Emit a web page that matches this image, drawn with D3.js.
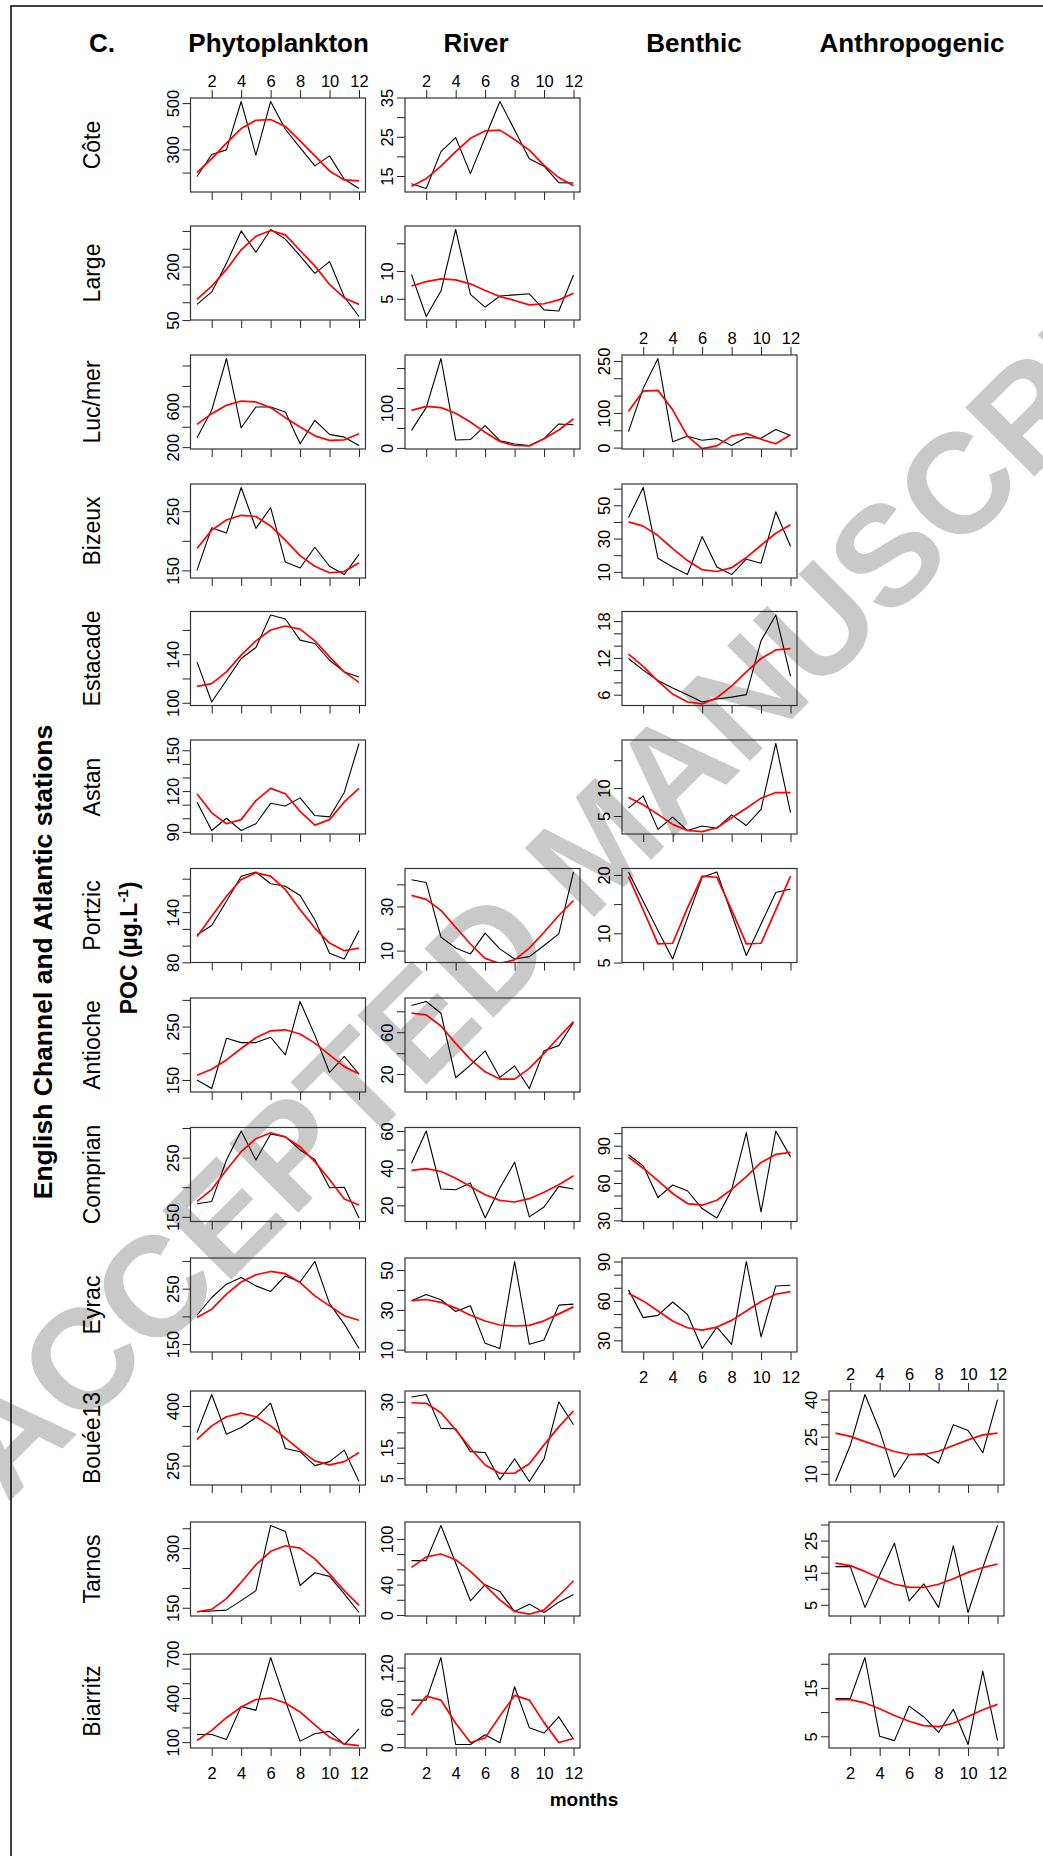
<!DOCTYPE html>
<html><head><meta charset="utf-8">
<script src="https://cdn.jsdelivr.net/npm/d3@7"></script>
<style>
body{margin:0;background:#fff}
svg{display:block}
text{font-family:"Liberation Sans",Arial,Helvetica,sans-serif}
</style>
</head><body>
<svg id="chart" width="1043" height="1856"></svg>
<script>
// ---------------- data ----------------
const months = [1,2,3,4,5,6,7,8,9,10,11,12];
const monthTicks = [2,4,6,8,10,12];
const stations = ["Côte","Large","Luc/mer","Bizeux","Estacade","Astan","Portzic","Antioche","Comprian","Eyrac","Bouée13","Tarnos","Biarritz"];
const sources = ["Phytoplankton","River","Benthic","Anthropogenic"];

const cote_phyto_obs = [183,278,298,507,275,507,387,308,229,272,171,131];
const cote_phyto_fit = [200,260,327,390,426,429,399,337,272,207,168,164];
const cote_phyto_ticks = [200,300,400,500], cote_phyto_labels = [300,500];
const cote_river_obs = [13.0,11.8,21.2,24.8,15.6,24.8,34.0,26.7,19.4,17.5,13.3,13.2];
const cote_river_fit = [12.4,14.3,17.5,21.2,24.6,26.5,26.7,24.3,21.6,17.7,14.6,12.5];
const cote_river_ticks = [15,20,25,30,35], cote_river_labels = [15,25,35];

const large_phyto_obs = [94,129,209,300,240,304,277,230,181,214,115,60];
const large_phyto_fit = [108,145,192,247,285,301,289,245,202,150,112,94];
const large_phyto_ticks = [50,100,150,200,250,300], large_phyto_labels = [50,200];
const large_river_obs = [9.4,1.8,6.4,17.5,5.8,3.5,5.5,5.7,5.9,3.0,2.8,9.3];
const large_river_fit = [7.3,8.1,8.6,8.4,7.7,6.5,5.4,4.7,3.9,4.1,4.8,6.0];
const large_river_ticks = [5,10,15], large_river_labels = [5,10];

const lucmer_phyto_obs = [292,561,1069,390,593,593,544,233,462,325,298,216];
const lucmer_phyto_fit = [423,528,610,652,643,587,489,397,311,266,272,331];
const lucmer_phyto_ticks = [200,400,600,800,1000], lucmer_phyto_labels = [200,600];
const lucmer_river_obs = [44,101,224,20,21,56,18,10,6,23,60,58];
const lucmer_river_fit = [94,104,101,87,65,39,16,6,5,23,45,73];
const lucmer_river_ticks = [0,50,100,150,200], lucmer_river_labels = [0,100];
const lucmer_benthic_obs = [46,171,257,17,33,21,26,6,29,27,52,35];
const lucmer_benthic_fit = [105,163,165,109,33,-3,5,33,41,24,11,37];
const lucmer_benthic_ticks = [0,50,100,150,200,250], lucmer_benthic_labels = [0,100,250];

const bizeux_phyto_obs = [150,222,213,290,221,256,164,154,189,157,143,177];
const bizeux_phyto_fit = [187,218,235,243,241,225,201,175,157,146,148,163];
const bizeux_phyto_ticks = [150,200,250], bizeux_phyto_labels = [150,250];
const bizeux_benthic_obs = [42.6,60.7,18.2,12.9,8.4,31.2,12.9,8.4,17.6,15.2,46.1,25.4];
const bizeux_benthic_fit = [40,37.5,31.8,24,16.8,11.3,10.2,12.5,18.6,26,33.2,38.3];
const bizeux_benthic_ticks = [10,20,30,40,50,60], bizeux_benthic_labels = [10,30,50];

const estacade_phyto_obs = [133.7,100.6,118.5,136.4,145.5,172.3,169,151.6,148.8,135,125.4,121.2];
const estacade_phyto_fit = [113.5,115.7,125.4,139.2,151,159.9,163.2,160.7,151,137.8,125.4,116.8];
const estacade_phyto_ticks = [100,120,140,160], estacade_phyto_labels = [100,140];
const estacade_benthic_obs = [11.9,10,8.3,7.1,6.0,4.8,5.3,5.6,6.0,14.8,19,9.0];
const estacade_benthic_fit = [12.6,10.6,8.2,6.1,4.8,4.5,5.5,7.4,9.7,11.9,13.3,13.5];
const estacade_benthic_ticks = [6,8,10,12,14,16,18], estacade_benthic_labels = [6,12,18];

const astan_phyto_obs = [112,91,100,91,96,111,109,115,102,101,119,155];
const astan_phyto_fit = [118,104,96,99,113,122,118,105,95,99,112,122];
const astan_phyto_ticks = [90,100,110,120,130,140,150], astan_phyto_labels = [90,120,150];
const astan_benthic_obs = [6.4,8.6,2.6,4.8,2.4,3.2,2.8,5.2,3.3,6.2,18.0,5.6];
const astan_benthic_fit = [8.3,7.0,5.3,3.5,2.4,2.2,2.9,4.7,6.4,8.2,9.2,9.2];
const astan_benthic_ticks = [5,10,15], astan_benthic_labels = [5,10];

const portzic_phyto_obs = [113,124,153,183,188,174,171,160,131,91,84,118];
const portzic_phyto_fit = [111,135,159,179,187,183,167,143,121,103,94,97];
const portzic_phyto_ticks = [80,100,120,140,160,180], portzic_phyto_labels = [80,140];
const portzic_river_obs = [42.1,40.8,16.1,11.2,8.5,17.9,10.8,6.2,7.3,12.3,17.6,45.6];
const portzic_river_fit = [35,33.2,28.2,20.6,13,6.5,4.2,5.8,11.1,18.3,25.9,32.7];
const portzic_river_ticks = [10,20,30,40], portzic_river_labels = [10,30];
const portzic_benthic_obs = [20.5,15.5,10.5,5.6,12.6,19.6,20.5,13.3,6.2,11.6,17.0,17.6];
const portzic_benthic_fit = [19.7,14,8.2,8.3,14.3,19.8,19.6,14,8.2,8.3,14,19.8];
const portzic_benthic_ticks = [5,10,15,20], portzic_benthic_labels = [5,10,20];

const antioche_phyto_obs = [150,134,228,220,220,230,197,297,234,164,194,161];
const antioche_phyto_fit = [159,170,187.5,209,229,242,244,236,219,197,175,161];
const antioche_phyto_ticks = [150,200,250,300], antioche_phyto_labels = [150,250];
const antioche_river_obs = [85.6,89.4,78.2,16.5,28.6,42.1,16.8,27.7,6.2,42.4,47.2,69.3];
const antioche_river_fit = [78.2,76.6,66,49.4,34.1,22.2,15.2,15.2,25.4,39.8,55.2,70.2];
const antioche_river_ticks = [20,40,60,80], antioche_river_labels = [20,60];

const comprian_phyto_obs = [172,176,246,295,246,290,285,263,247,199,200,148];
const comprian_phyto_fit = [176,196,229,260,282,292,285,268,243,213,180,170];
const comprian_phyto_ticks = [150,200,250,300], comprian_phyto_labels = [150,250];
const comprian_river_obs = [42.7,60,28.8,28.4,32,13.2,29.3,43.2,13.8,19.1,30.2,28.8];
const comprian_river_fit = [38.8,39.8,38.2,34.6,30.2,25.7,22.7,21.8,23.6,27.1,31.1,35.9];
const comprian_river_ticks = [20,30,40,50,60], comprian_river_labels = [20,40,60];
const comprian_benthic_obs = [82.7,73.8,48.4,58.4,53.8,39.5,31.9,54.3,100.5,36.8,101.8,81];
const comprian_benthic_fit = [80.8,71.9,61.9,51.6,43.5,42.2,46.2,54.9,65.1,76.5,83,84.6];
const comprian_benthic_ticks = [30,40,50,60,70,80,90,100], comprian_benthic_labels = [30,60,90];

const eyrac_phyto_obs = [202,234,258,270,255,245,273,262,299,223,186,142];
const eyrac_phyto_fit = [198,213,240,262,275,281,277,261,237,219,201,193];
const eyrac_phyto_ticks = [150,200,250,300], eyrac_phyto_labels = [150,250];
const eyrac_river_obs = [34.6,37.7,35.1,29.2,32.1,13.2,10.6,54.3,12.7,14.9,32.4,32.9];
const eyrac_river_fit = [34.6,35.2,33.8,30.9,27.3,24.4,22.4,21.9,22.2,24.5,28,31.5];
const eyrac_river_ticks = [10,20,30,40,50], eyrac_river_labels = [10,30,50];
const eyrac_benthic_obs = [68.4,47.3,49,59.2,49.8,23.8,40.1,26.9,90,32.7,71.4,71.9];
const eyrac_benthic_fit = [65.8,60,52.3,44.7,39.6,37.8,40.1,45.2,52.3,59.5,65.1,67.1];
const eyrac_benthic_ticks = [30,40,50,60,70,80,90], eyrac_benthic_labels = [30,60,90];

const bouee_phyto_obs = [333,429,329,346,371,407,293,285,250,260,289,210];
const bouee_phyto_fit = [316,350,373,382,373,350,319,289,262,252,260,283];
const bouee_phyto_ticks = [250,300,350,400], bouee_phyto_labels = [250,400];
const bouee_river_obs = [31.6,32.4,21.3,21.2,13.7,13.4,4.5,11.3,3.9,11.3,30,22.5];
const bouee_river_fit = [29.7,29.5,26.4,20.8,14.8,9.3,6.6,6.6,9.7,15.9,21.8,27];
const bouee_river_ticks = [5,10,15,20,25,30], bouee_river_labels = [5,15,30];
const bouee_anthro_obs = [6.9,21.4,42,27.5,8.6,17.8,18.1,14.3,29.8,27.5,18.5,39.9];
const bouee_anthro_fit = [26.4,25.1,23,21,19,17.8,17.8,19.1,21.4,23.7,25.7,26.4];
const bouee_anthro_ticks = [10,15,20,25,30,35,40], bouee_anthro_labels = [10,25,40];

const tarnos_phyto_obs = [140,142,144,168,193,357,342,206,238,229,185,138];
const tarnos_phyto_fit = [140,146,173,214,258,292,306,300,273,235,193,156];
const tarnos_phyto_ticks = [150,200,250,300,350], tarnos_phyto_labels = [150,300];
const tarnos_river_obs = [71.4,71.4,117.6,68.4,18.7,39.8,31,4.6,14.3,3.3,16.9,27];
const tarnos_river_fit = [62.6,76.3,80.2,72.7,57.4,38.9,20,4.6,1.1,6.8,25,45];
const tarnos_river_ticks = [0,20,40,60,80,100], tarnos_river_labels = [0,40,100];
const tarnos_anthro_obs = [16.9,16.9,4.2,14.3,24.2,6.2,11.5,4.2,23.4,2.6,16.6,29.7];
const tarnos_anthro_fit = [18,17.2,15.4,13.3,11.4,10.5,10.4,11.4,13.1,15.1,16.6,17.7];
const tarnos_anthro_ticks = [5,10,15,20,25,30], tarnos_anthro_labels = [5,15,25];

const biarritz_phyto_obs = [152,152,118,343,316,675,380,107,157,173,84,191];
const biarritz_phyto_fit = [111,180,266,339,389,400,366,305,218,134,89,77];
const biarritz_phyto_ticks = [100,200,300,400,500,600,700], biarritz_phyto_labels = [100,400,700];
const biarritz_river_obs = [70.9,70.9,135.2,4,4,18.7,6.6,91.1,29.4,21.3,45.6,12];
const biarritz_river_fit = [48,77,71,36,7,14,47,78,71,37,7,13];
const biarritz_river_ticks = [0,20,40,60,80,100,120], biarritz_river_labels = [0,60,120];
const biarritz_anthro_obs = [12.8,12.8,21.3,5,4.1,11.25,9,5.8,10.6,3.3,18.5,4.1];
const biarritz_anthro_fit = [12.6,12.6,11.9,10.7,9.3,8.1,7.2,7,7.7,9.1,10.5,11.6];
const biarritz_anthro_ticks = [5,10,15,20], biarritz_anthro_labels = [5,15];

// panel table: [row, col, observed, fitted, ticks, labels]
const panels = [
  [0,0,cote_phyto_obs,cote_phyto_fit,cote_phyto_ticks,cote_phyto_labels],
  [0,1,cote_river_obs,cote_river_fit,cote_river_ticks,cote_river_labels],
  [1,0,large_phyto_obs,large_phyto_fit,large_phyto_ticks,large_phyto_labels],
  [1,1,large_river_obs,large_river_fit,large_river_ticks,large_river_labels],
  [2,0,lucmer_phyto_obs,lucmer_phyto_fit,lucmer_phyto_ticks,lucmer_phyto_labels],
  [2,1,lucmer_river_obs,lucmer_river_fit,lucmer_river_ticks,lucmer_river_labels],
  [2,2,lucmer_benthic_obs,lucmer_benthic_fit,lucmer_benthic_ticks,lucmer_benthic_labels],
  [3,0,bizeux_phyto_obs,bizeux_phyto_fit,bizeux_phyto_ticks,bizeux_phyto_labels],
  [3,2,bizeux_benthic_obs,bizeux_benthic_fit,bizeux_benthic_ticks,bizeux_benthic_labels],
  [4,0,estacade_phyto_obs,estacade_phyto_fit,estacade_phyto_ticks,estacade_phyto_labels],
  [4,2,estacade_benthic_obs,estacade_benthic_fit,estacade_benthic_ticks,estacade_benthic_labels],
  [5,0,astan_phyto_obs,astan_phyto_fit,astan_phyto_ticks,astan_phyto_labels],
  [5,2,astan_benthic_obs,astan_benthic_fit,astan_benthic_ticks,astan_benthic_labels],
  [6,0,portzic_phyto_obs,portzic_phyto_fit,portzic_phyto_ticks,portzic_phyto_labels],
  [6,1,portzic_river_obs,portzic_river_fit,portzic_river_ticks,portzic_river_labels],
  [6,2,portzic_benthic_obs,portzic_benthic_fit,portzic_benthic_ticks,portzic_benthic_labels],
  [7,0,antioche_phyto_obs,antioche_phyto_fit,antioche_phyto_ticks,antioche_phyto_labels],
  [7,1,antioche_river_obs,antioche_river_fit,antioche_river_ticks,antioche_river_labels],
  [8,0,comprian_phyto_obs,comprian_phyto_fit,comprian_phyto_ticks,comprian_phyto_labels],
  [8,1,comprian_river_obs,comprian_river_fit,comprian_river_ticks,comprian_river_labels],
  [8,2,comprian_benthic_obs,comprian_benthic_fit,comprian_benthic_ticks,comprian_benthic_labels],
  [9,0,eyrac_phyto_obs,eyrac_phyto_fit,eyrac_phyto_ticks,eyrac_phyto_labels],
  [9,1,eyrac_river_obs,eyrac_river_fit,eyrac_river_ticks,eyrac_river_labels],
  [9,2,eyrac_benthic_obs,eyrac_benthic_fit,eyrac_benthic_ticks,eyrac_benthic_labels],
  [10,0,bouee_phyto_obs,bouee_phyto_fit,bouee_phyto_ticks,bouee_phyto_labels],
  [10,1,bouee_river_obs,bouee_river_fit,bouee_river_ticks,bouee_river_labels],
  [10,3,bouee_anthro_obs,bouee_anthro_fit,bouee_anthro_ticks,bouee_anthro_labels],
  [11,0,tarnos_phyto_obs,tarnos_phyto_fit,tarnos_phyto_ticks,tarnos_phyto_labels],
  [11,1,tarnos_river_obs,tarnos_river_fit,tarnos_river_ticks,tarnos_river_labels],
  [11,3,tarnos_anthro_obs,tarnos_anthro_fit,tarnos_anthro_ticks,tarnos_anthro_labels],
  [12,0,biarritz_phyto_obs,biarritz_phyto_fit,biarritz_phyto_ticks,biarritz_phyto_labels],
  [12,1,biarritz_river_obs,biarritz_river_fit,biarritz_river_ticks,biarritz_river_labels],
  [12,3,biarritz_anthro_obs,biarritz_anthro_fit,biarritz_anthro_ticks,biarritz_anthro_labels]
];

// ---------------- layout ----------------
const PW = 175, PH = 94;
const colLeft = [190.5, 405, 622, 829];
const rowTop = [98, 226, 355, 484, 611.5, 740, 868.5, 998, 1127.5, 1258, 1391, 1522, 1654];
const titleX = [278.6, 476, 694, 912];
const axisColor = "#222";
const tickFont = 16.5;

const svg = d3.select("#chart");

// watermark (drawn beneath)
svg.append("text")
  .attr("transform","translate(7,1504) rotate(-45)")
  .attr("font-size",142).attr("font-weight","bold").attr("fill","#c9c9c9")
  .text("ACCEPTED MANUSCRIPT");

// outer frame (left and top edges)
svg.append("path").attr("d","M11,1856V6H1043").attr("fill","none").attr("stroke","#000").attr("stroke-width",1.5);

// headings
svg.append("text").attr("x",102).attr("y",52).attr("text-anchor","middle")
  .attr("font-size",26).attr("font-weight","bold").text("C.");
sources.forEach((s,i)=>{
  svg.append("text").attr("x",titleX[i]).attr("y",52).attr("text-anchor","middle")
    .attr("font-size",26).attr("font-weight","bold").text(s);
});

// row labels
stations.forEach((s,i)=>{
  svg.append("text").attr("transform",`translate(100,${rowTop[i]+PH/2}) rotate(-90)`)
    .attr("text-anchor","middle").attr("font-size",23).text(s);
});

// big left labels
svg.append("text").attr("transform","translate(52,962) rotate(-90)")
  .attr("text-anchor","middle").attr("font-size",26.5).attr("font-weight","bold")
  .text("English Channel and Atlantic stations");
const poc = svg.append("text").attr("transform","translate(137,948) rotate(-90)")
  .attr("text-anchor","middle").attr("font-size",23).attr("font-weight","bold");
poc.append("tspan").text("POC (µg.L");
poc.append("tspan").attr("font-size",15).attr("dy",-9).text("-1");
poc.append("tspan").attr("dy",9).text(")");

svg.append("text").attr("x",584).attr("y",1806).attr("text-anchor","middle")
  .attr("font-size",19).attr("font-weight","bold").text("months");

// which panel is first/last in each column
const firstRow = {}, lastRow = {};
panels.forEach(p=>{
  const c=p[1], r=p[0];
  if(firstRow[c]===undefined || r<firstRow[c]) firstRow[c]=r;
  if(lastRow[c]===undefined || r>lastRow[c]) lastRow[c]=r;
});

const defs = svg.append("defs");

panels.forEach((p,k)=>{
  const [r,c,obs,fit,ticks,labels] = p;
  const L = colLeft[c], T = rowTop[r];
  const x = d3.scaleLinear().domain([0.56,12.44]).range([L,L+PW]);
  const [mn,mx] = d3.extent(obs);
  const pad = (mx-mn)*0.04;
  const y = d3.scaleLinear().domain([mn-pad,mx+pad]).range([T+PH,T]);
  const g = svg.append("g");

  defs.append("clipPath").attr("id","clip"+k)
    .append("rect").attr("x",L).attr("y",T).attr("width",PW).attr("height",PH);

  const line = d3.line().x((d,i)=>x(months[i])).y(d=>y(d));
  const lines = g.append("g").attr("clip-path",`url(#clip${k})`);
  lines.append("path").attr("d",line(obs)).attr("fill","none")
    .attr("stroke","#000").attr("stroke-width",1.1).attr("stroke-linejoin","round");
  lines.append("path").attr("d",line(fit)).attr("fill","none")
    .attr("stroke","#ff0000").attr("stroke-width",1.7).attr("stroke-linejoin","round");

  // left axis
  const ya = g.append("g").attr("transform",`translate(${L},0)`)
    .call(d3.axisLeft(y).tickValues(ticks).tickSize(8)
      .tickFormat(d=> labels.includes(d) ? String(d) : ""));
  ya.select(".domain").remove();
  ya.selectAll("line").attr("stroke",axisColor);
  ya.selectAll("text").attr("x",0).attr("dy",0)
    .attr("transform","translate(-12,0) rotate(-90)")
    .attr("text-anchor","middle").attr("fill","#000")
    .attr("font-size",tickFont);
  ya.attr("font-family",null).attr("font-size",null);

  // bottom axis (ticks always, labels only at the column bottom)
  const showBottom = lastRow[c]===r;
  const xb = g.append("g").attr("transform",`translate(0,${T+PH})`)
    .call(d3.axisBottom(x).tickValues(monthTicks).tickSize(8)
      .tickFormat(d=> showBottom ? String(d) : ""));
  xb.select(".domain").remove();
  xb.selectAll("line").attr("stroke",axisColor);
  xb.selectAll("text").attr("y",31).attr("dy",0).attr("fill","#000").attr("font-size",tickFont);
  xb.attr("font-family",null).attr("font-size",null);

  // top axis on the first panel of each column
  if(firstRow[c]===r){
    const xt = g.append("g").attr("transform",`translate(0,${T})`)
      .call(d3.axisTop(x).tickValues(monthTicks).tickSize(8));
    xt.select(".domain").remove();
    xt.selectAll("line").attr("stroke",axisColor);
    xt.selectAll("text").attr("y",-11).attr("dy",0).attr("fill","#000").attr("font-size",tickFont);
    xt.attr("font-family",null).attr("font-size",null);
  }

  // box
  g.append("rect").attr("x",L).attr("y",T).attr("width",PW).attr("height",PH)
    .attr("fill","none").attr("stroke","#333").attr("stroke-width",1.2);
});
</script>
</body></html>
